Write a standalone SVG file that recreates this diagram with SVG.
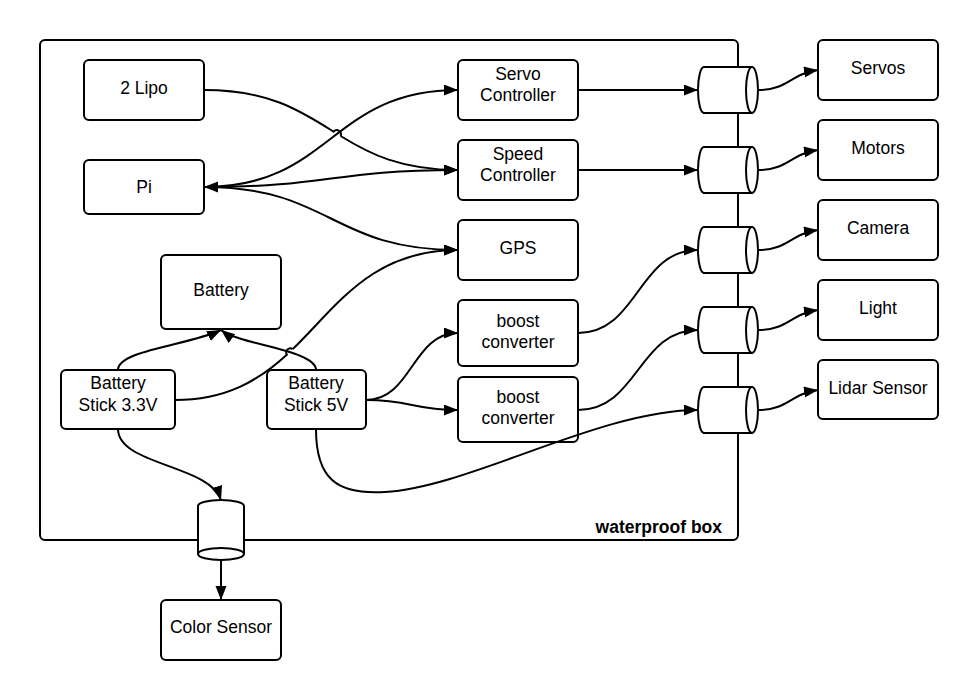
<svg xmlns="http://www.w3.org/2000/svg" width="979" height="700" viewBox="0 0 979 700">
<style>
.box{fill:#fff;stroke:#000;stroke-width:2}
.frame{fill:none;stroke:#000;stroke-width:2}
.cyl{fill:#fff;stroke:#000;stroke-width:2}
.t{font-family:"Liberation Sans",Arial,sans-serif;font-size:17.5px;fill:#000;text-anchor:middle}
.tb{font-family:"Liberation Sans",Arial,sans-serif;font-size:17.5px;font-weight:bold;fill:#000;text-anchor:end}
.c{fill:none;stroke:#000;stroke-width:2}
.a{marker-end:url(#ah)}
</style>
<defs>
<marker id="ah" markerUnits="userSpaceOnUse" markerWidth="16" markerHeight="13" refX="14" refY="5.5" orient="auto-start-reverse" viewBox="0 0 16 13">
<path d="M0,0 L14,5.5 L0,11 z" fill="#000"/>
</marker>
</defs>
<rect width="979" height="700" fill="#fff"/>
<g id="waterproof-box">
<rect x="40" y="40" width="698" height="500" rx="5" class="frame"/>
<text x="722" y="533" class="tb">waterproof box</text>
</g>
<g id="lipo"><rect x="84" y="60" width="120" height="60" rx="5" class="box"/><text x="144" y="93.5" class="t">2 Lipo</text></g>
<g id="pi"><rect x="84" y="160" width="120" height="54" rx="5" class="box"/><text x="144" y="192.5" class="t">Pi</text></g>
<g id="battery"><rect x="161" y="255" width="120" height="74" rx="5" class="box"/><text x="221" y="296" class="t">Battery</text></g>
<g id="servo-controller"><rect x="458" y="60" width="120" height="60" rx="5" class="box"/><text x="518" y="80" class="t">Servo</text><text x="518" y="100.7" class="t">Controller</text></g>
<g id="speed-controller"><rect x="458" y="140" width="120" height="60" rx="5" class="box"/><text x="518" y="160" class="t">Speed</text><text x="518" y="180.7" class="t">Controller</text></g>
<g id="gps"><rect x="458" y="220" width="120" height="60" rx="5" class="box"/><text x="518" y="253.5" class="t">GPS</text></g>
<g id="boost1"><rect x="458" y="300" width="120" height="66" rx="5" class="box"/><text x="518" y="326.7" class="t">boost</text><text x="518" y="347.7" class="t">converter</text></g>
<g id="boost2"><rect x="458" y="377" width="120" height="65" rx="5" class="box"/><text x="518" y="403.3" class="t">boost</text><text x="518" y="424.3" class="t">converter</text></g>
<g id="stick33"><rect x="61" y="370" width="114" height="59" rx="5" class="box"/><text x="118" y="389" class="t">Battery</text><text x="118" y="410.7" class="t">Stick 3.3V</text></g>
<g id="stick5"><rect x="267" y="370" width="99" height="59" rx="5" class="box"/><text x="316" y="389" class="t">Battery</text><text x="316" y="410.7" class="t">Stick 5V</text></g>
<g id="color-sensor"><rect x="161" y="600" width="120" height="60" rx="5" class="box"/><text x="221" y="633" class="t">Color Sensor</text></g>
<g id="servos"><rect x="818" y="40" width="120" height="60" rx="5" class="box"/><text x="878" y="73.5" class="t">Servos</text></g>
<g id="motors"><rect x="818" y="120" width="120" height="60" rx="5" class="box"/><text x="878" y="153.5" class="t">Motors</text></g>
<g id="camera"><rect x="818" y="200" width="120" height="60" rx="5" class="box"/><text x="878" y="233.5" class="t">Camera</text></g>
<g id="light"><rect x="818" y="280" width="120" height="60" rx="5" class="box"/><text x="878" y="313.5" class="t">Light</text></g>
<g id="lidar"><rect x="818" y="360" width="120" height="59" rx="5" class="box"/><text x="878" y="393.5" class="t">Lidar Sensor</text></g>
<g id="cyl1"><path class="cyl" d="M752 67 L704 67 A6 23 0 0 0 704 113 L752 113"/><ellipse cx="752" cy="90" rx="6" ry="23" class="cyl"/></g>
<g id="cyl2"><path class="cyl" d="M752 147 L704 147 A6 23 0 0 0 704 193 L752 193"/><ellipse cx="752" cy="170" rx="6" ry="23" class="cyl"/></g>
<g id="cyl3"><path class="cyl" d="M752 227 L704 227 A6 23 0 0 0 704 273 L752 273"/><ellipse cx="752" cy="250" rx="6" ry="23" class="cyl"/></g>
<g id="cyl4"><path class="cyl" d="M752 307 L704 307 A6 23 0 0 0 704 353 L752 353"/><ellipse cx="752" cy="330" rx="6" ry="23" class="cyl"/></g>
<g id="cyl5"><path class="cyl" d="M752 387 L704 387 A6 23 0 0 0 704 433 L752 433"/><ellipse cx="752" cy="410" rx="6" ry="23" class="cyl"/></g>
<g id="cyl-bottom"><path class="cyl" d="M198 554 L198 506 A23 6 0 0 1 244 506 L244 554"/><ellipse cx="221" cy="554" rx="23" ry="6" class="cyl"/></g>
<g id="connectors">
<path class="c" d="M204 90 C269.28 90 301 111.14 333.67 131.68 A4.1 4.1 0 0 1 340.56 135.98"/>
<path class="c a" d="M340.56 135.98 C369.42 153.8 400.85 170 458 170"/>
<path class="c a" d="M204 187 C331 187 331 90 458 90"/>
<path class="c a" style="marker-start:url(#ah)" d="M204 187 C331 187 331 170 458 170"/>
<path class="c a" d="M204 187 C331 187 331 250 458 250"/>
<path class="c" d="M175 400 C226.47 400 259.15 380.02 286.81 354.64 A4.1 4.1 0 0 1 292.64 349.14"/>
<path class="c a" d="M292.64 349.14 C337.71 305.63 371.52 250 458 250"/>
<path class="c a" d="M118 370 C118 350 190 345 221 330"/>
<path class="c a" d="M316 370 C316 350 240 345 221 330"/>
<path class="c a" d="M118 429 C118 465 210 465 221 500"/>
<path class="c a" d="M221 560 L221 600"/>
<path class="c a" d="M366 400 C412 400 412 333 458 333"/>
<path class="c a" d="M366 400 C412 400 412 410 458 410"/>
<path class="c a" d="M316 429 C316 478 336 495 385 492 C470 487 600 410 698 410"/>
<path class="c a" d="M578 90 L698 90"/>
<path class="c a" d="M578 170 L698 170"/>
<path class="c a" d="M578 333 C638 333 638 250 698 250"/>
<path class="c a" d="M578 410 C638 410 638 330 698 330"/>
<path class="c a" d="M758 90 C788 90 790 74 818 70"/>
<path class="c a" d="M758 170 C788 170 790 154 818 150"/>
<path class="c a" d="M758 250 C788 250 790 234 818 230"/>
<path class="c a" d="M758 330 C788 330 790 314 818 310"/>
<path class="c a" d="M758 410 C788 410 790 394 818 390"/>
</g>
</svg>
